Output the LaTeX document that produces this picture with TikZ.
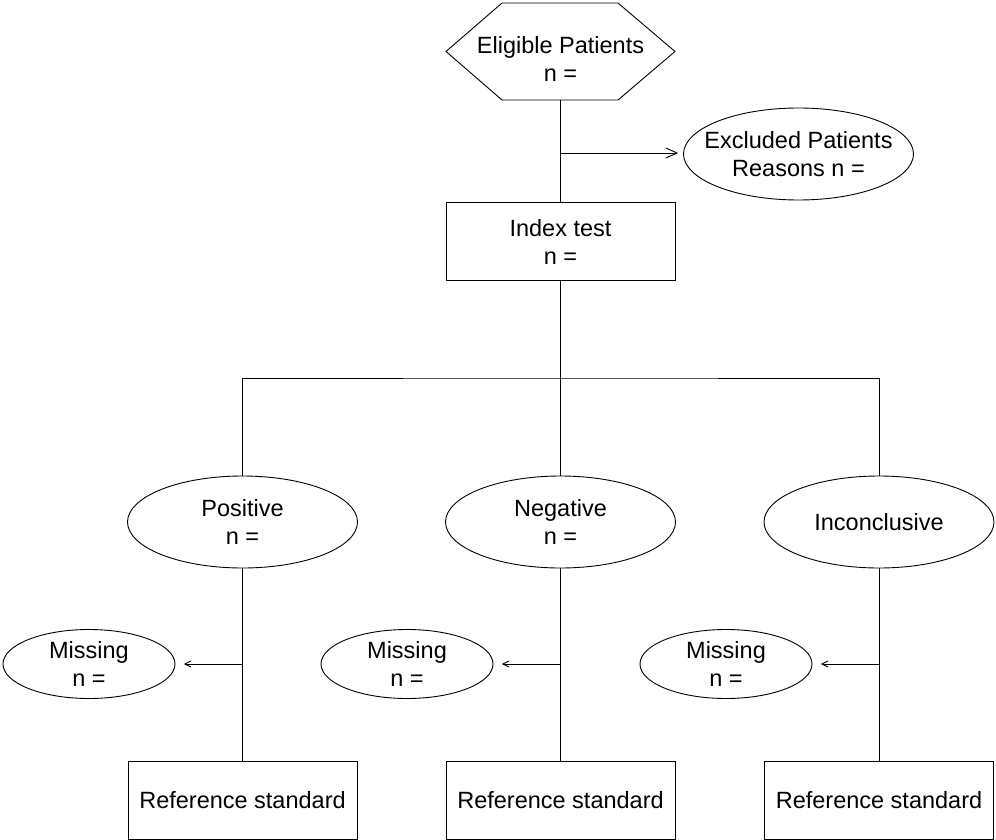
\documentclass[tikz,border=0pt]{standalone}
\usepackage{fontspec}
\setmainfont{Liberation Sans}
\usetikzlibrary{arrows.meta}

\tikzset{
  txt/.style={align=center, inner sep=0pt, font=\fontsize{23.5}{28}\selectfont},
  boxnode/.style={txt, draw, minimum width=229pt, minimum height=78pt},
  ovalbig/.style={txt, minimum width=230pt, minimum height=92pt},
  ovalsmall/.style={txt, minimum width=172pt, minimum height=69pt},
  arrbig/.style={-{Straight Barb[length=11pt,width=10pt]}},
  arrsmall/.style={-{Straight Barb[length=6pt,width=6pt]}}
}

\begin{document}
\begin{tikzpicture}[x=1pt, y=-1pt, line width=0.9pt]
    \useasboundingbox (0,0) rectangle (996,840);
    \coordinate (HexW)    at (446,51.5);
    \coordinate (HexE)    at (675,51.5);
    \coordinate (eligbot) at (560.5,100);
    \coordinate (excljoin) at (560.5,153);
    \coordinate (split)   at (560.5,378);

    \draw (HexW) -- (502,3) -- (618,3) -- (HexE) -- (618,100) -- (502,100) -- cycle;% hexagon
    \node[txt] (elig) at (560.5,59) {Eligible Patients\\n =};

    \node[ovalbig] (excl)  at (798.5,154) {Excluded Patients\\Reasons n =};
    \node[boxnode] (index) at (560.5,241.5) {Index test\\n =};
    \draw (eligbot) -- (index.north);
    \draw[arrbig] (excljoin) -- ([xshift=-5pt]excljoin -| excl.west);% to excluded

    \node[ovalbig] (pos) at (242.5,522) {Positive\\n =};
    \node[ovalbig] (neg) at (560.5,522) {Negative\\n =};
    \node[ovalbig] (inc) at (879,522) {Inconclusive};
    \draw (index.south) -- (split);
    \draw (pos.north) |- (split) -| (inc.north);
    \draw (split) -- (neg.north);

    \foreach \n/\x/\mx in {pos/242.5/89, neg/560.5/407, inc/879/726}{%
      \node[ovalsmall] (miss\n) at (\mx,664) {Missing\\n =};
      \node[boxnode] (ref\n) at (\x,800) {Reference standard};
      \draw (\n.south) -- (ref\n.north);
      \coordinate (join\n) at (\x,664);
      \draw[arrsmall] (join\n) -- ([xshift=8.5pt]miss\n.east);
      \draw (miss\n.center) ellipse [x radius=86pt, y radius=34.5pt];
    }
    \foreach \n in {excl,pos,neg,inc}
      \draw (\n.center) ellipse [x radius=115pt, y radius=46pt];% the ovals
\end{tikzpicture}
\end{document}
